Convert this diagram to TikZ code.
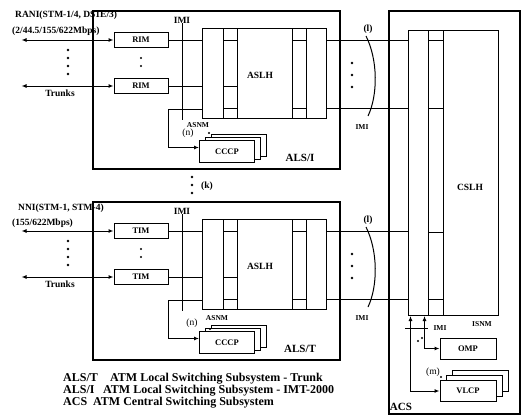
\documentclass[tikz,border=0pt]{standalone}
\usepackage{fontspec}
\setmainfont{Liberation Serif}
\usetikzlibrary{arrows.meta}

\tikzset{
  frame/.style={draw, line width=2.4pt, inner sep=0pt, anchor=north west},
  col/.style={draw, line width=1pt, inner sep=0pt, anchor=north west},
  modbox/.style={draw, line width=1pt, fill=white, minimum width=54pt, minimum height=15pt, inner sep=0pt, font=\fontsize{8.5}{9}\selectfont\bfseries},
  cpbox/.style={draw, line width=1pt, fill=white, minimum width=55pt, minimum height=22pt, inner sep=0pt, font=\fontsize{8.5}{9}\selectfont\bfseries},
  lbl/.style={font=\fontsize{9.5}{10}\selectfont\bfseries, inner sep=0pt},
  small/.style={font=\fontsize{7.5}{8}\selectfont\bfseries, inner sep=0pt},
  big/.style={font=\fontsize{11}{12}\selectfont\bfseries, inner sep=0pt},
  legend/.style={font=\fontsize{12}{12}\selectfont\bfseries, inner sep=0pt, anchor=base west},
  wire/.style={line width=1pt},
  tip/.style={-{Latex[length=5pt,width=4pt]}},
  tips/.style={{Latex[length=5pt,width=4pt]}-{Latex[length=5pt,width=4pt]}},
}

\begin{document}
\begin{tikzpicture}[x=1pt,y=-1pt]
\useasboundingbox (0,0) rectangle (523,415);

% central subsystem
\node[frame, minimum width=131pt, minimum height=403pt] (acs) at (388,10) {};
\node[col, minimum width=20pt, minimum height=285pt] (csa) at (408,30) {};
\node[col, minimum width=15pt, minimum height=285pt] (csb) at (428,30) {};
\node[col, minimum width=55pt, minimum height=285pt] (csc) at (443,30) {};
\foreach \y in {40,108,232,299}
  {\draw[wire] (428,\y) -- (443,\y);}
\node[lbl] (cslh) at (470,187) {CSLH};
\node[small] (isnm) at (482,324) {ISNM};

% local subsystems
\foreach \s/\dy/\mname/\nx/\ny/\ax/\ay/\px/\py in {I/0/RIM/188/133/198/125/209/133, T/191/TIM/192/132/217/127/210/138}
{
\begin{scope}[shift={(0,\dy)}]
  \node[frame, minimum width=247pt, minimum height=158pt] (als\s) at (92,10) {};
  \node[big] (name\s) at (300,158) {ALS/\s};
  % ASLH
  \node[col, minimum width=21pt, minimum height=90pt] (a\s) at (202,28) {};
  \node[col, minimum width=14pt, minimum height=90pt] (b\s) at (223,28) {};
  \node[col, minimum width=55pt, minimum height=90pt] (c\s) at (237,28) {};
  \node[col, minimum width=14pt, minimum height=90pt] (d\s) at (292,28) {};
  \node[col, minimum width=20pt, minimum height=90pt] (e\s) at (306,28) {};
  \node[lbl] (aslh\s) at (260,75) {ASLH};
  \foreach \y in {40,86,108}
    {\draw[wire] (223,\y) -- (237,\y);}
  \foreach \y in {40,108}
    {\draw[wire] (292,\y) -- (306,\y);}
  % line modules
  \node[modbox] (m\s1) at (141,40) {\mname};
  \node[modbox] (m\s2) at (141,86) {\mname};
  \draw[wire, tips] (m\s1.west) -- ++(-92,0);
  \draw[wire, tips] (m\s2.west) -- ++(-92,0);
  \draw[wire] (m\s1.east) -- (m\s1.east -| a\s.west);
  \draw[wire] (m\s2.east) -- (m\s2.east -| a\s.west);
  \node[lbl] (trk\s) at (60,93) {Trunks};
  \foreach \y in {50,58,66,74}
    {\fill (68,\y) circle (1.4);}
  \foreach \y in {58,66}
    {\fill (141,\y) circle (1.2);}
  \node[lbl] (imi\s) at (182,20) {IMI};
  \draw[wire] (imi\s.south) -- ++(0,97);
  % control processors
  \node[cpbox] (cpb\s) at (239,145.5) {};
  \node[cpbox] (cpa\s) at (233,148.5) {};
  \node[cpbox] (cp\s) at (227,151.5) {CCCP};
  \draw[wire, tip] (a\s.south west) ++(0,-10) -- ++(-34,0) |- ([yshift=4pt]cp\s.west);
  \node[font=\fontsize{9.5}{10}\selectfont, inner sep=0pt] (n\s) at (\nx,\ny) {(n)};
  \node[small] (asnm\s) at (\ax,\ay) {ASNM};
  \fill (\px,\py) circle (1.2);
  % links to CSLH
  \path (e\s.north east) ++(0,12) coordinate (o\s1);
  \path (e\s.north east) ++(0,80) coordinate (o\s2);
  \draw[wire] (o\s1) -- (o\s1 -| csa.west);
  \draw[wire] (o\s2) -- (o\s2 -| csa.west);
  \draw[wire] (366,36) .. controls (378,60) and (378,95) .. (368,116);
  \foreach \y in {63,75,87}
    {\fill (352,\y) circle (1.3);}
  \node[lbl] (l\s) at (368,29) {(l)};
  \node[small] (imo\s) at (362,127) {IMI};
\end{scope}
}

\node[lbl, anchor=west] (rani) at (15,15) {RANI(STM-1/4, DS1E/3)};
\node[lbl, anchor=west] (rate1) at (12,31) {(2/44.5/155/622Mbps)};
\node[lbl, anchor=west] (nni) at (18,208) {NNI(STM-1, STM-4)};
\node[lbl, anchor=west] (rate2) at (12,223) {(155/622Mbps)};

\foreach \y in {177,185,193}
  {\fill (192,\y) circle (1.3);}
\node[lbl] (k) at (207,186) {(k)};

% ACS processors
\node[cpbox, minimum width=56pt, minimum height=21pt] (omp) at (468,348.5) {OMP};
\node[cpbox, minimum width=56pt, minimum height=21pt] (vlcpb) at (480,381) {};
\node[cpbox, minimum width=56pt, minimum height=21pt] (vlcpa) at (474,386) {};
\node[cpbox, minimum width=56pt, minimum height=21pt] (vlcp) at (468,391) {VLCP};
\draw[wire, tips] ([xshift=-8pt]csa.south) |- (vlcp.west);
\draw[wire, tips] ([xshift=6pt]csa.south) |- (omp.west);
\draw[wire] (405,328) -- (428,328);
\node[small] (imic) at (440,328) {IMI};
\fill (418,341) circle (1.1);
\fill (422,338) circle (1.1);
\node[font=\fontsize{9.5}{10}\selectfont, inner sep=0pt] (m) at (433,372) {(m)};
\fill (441,377) circle (1.1);
\node[big] (acsl) at (401,407) {ACS};

% legend
\node[legend] (kt) at (63,381) {ALS/T};
\node[legend] (dt) at (110,381) {ATM Local Switching Subsystem - Trunk};
\node[legend] (ki) at (63,393) {ALS/I};
\node[legend] (di) at (103,393) {ATM Local Switching Subsystem - IMT-2000};
\node[legend] (kc) at (63,405) {ACS};
\node[legend] (dc) at (93,405) {ATM Central Switching Subsystem};
\end{tikzpicture}
\end{document}
